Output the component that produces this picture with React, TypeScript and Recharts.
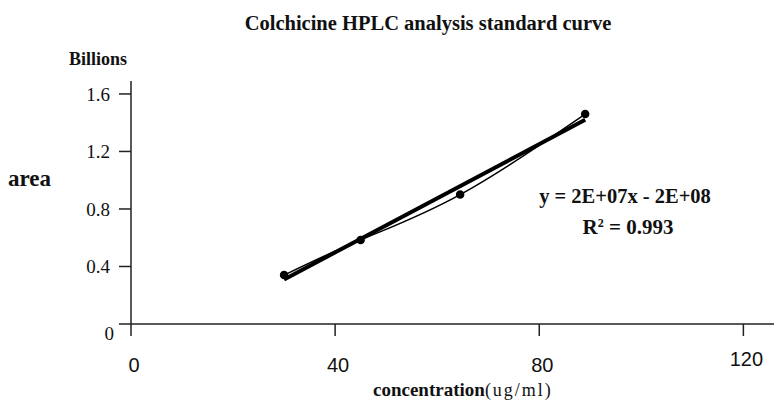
import React from "react";
import { CartesianGrid, Line, LineChart, XAxis, YAxis } from "recharts";

// concentration (ug/ml) and peak area (billions)
const concentration = [30, 45, 64.5, 89];
const areaBillions = [0.34, 0.585, 0.9, 1.46];

// linear trendline, end values
const trendConcentration = [30, 89];
const trendArea = [0.31, 1.42];

const xTicks = [0, 40, 80, 120];
const yTicks = [0, 0.4, 0.8, 1.2, 1.6];

const points = concentration.map((x, i) => ({ x, y: areaBillions[i] }));
const trend = trendConcentration.map((x, i) => ({ x, y: trendArea[i] }));

const serif = "'Liberation Serif', 'Times New Roman', serif";
const sans = "'Liberation Sans', Arial, sans-serif";

function XTick(props: any) {
  const { x, y, payload } = props;
  const lift = payload.value === 120 ? -6 : 0;
  return (
    <text x={x + 3} y={y + lift} textAnchor="middle" dy="0.71em" fontFamily={sans} fontSize={20} fill="#111">
      {payload.value}
    </text>
  );
}

// the zero label sits lower and further right than the others in the original
function YTick(props: any) {
  const { y, payload } = props;
  const isZero = Number(payload.value) === 0;
  return (
    <text
      x={isZero ? 114 : 110}
      y={y + (isZero ? 9 : 0)}
      textAnchor="end"
      dy="0.35em"
      fontFamily={serif}
      fontSize={19}
      fill="#111"
    >
      {payload.value}
    </text>
  );
}

function Txt({ left, top, size, bold = true, children, center = false }: any) {
  return (
    <div
      style={{
        position: "absolute",
        left,
        top,
        fontFamily: serif,
        fontSize: size,
        fontWeight: bold ? 700 : 400,
        lineHeight: 1,
        whiteSpace: "nowrap",
        color: "#111",
        transform: center ? "translateX(-50%)" : undefined,
      }}
    >
      {children}
    </div>
  );
}

export default function App() {
  return (
    <div style={{ position: "absolute", left: 0, top: 0, width: 774, height: 401, background: "#fff" }}>
      <LineChart width={774} height={401} margin={{ top: 81, right: 0, left: 71, bottom: 37 }}>
        <CartesianGrid stroke="none" />
        <XAxis
          type="number"
          dataKey="x"
          domain={[0, 126]}
          ticks={xTicks}
          height={40}
          tickSize={12}
          tickMargin={22}
          tick={<XTick />}
          stroke="#222"
          strokeWidth={1.5}
          allowDataOverflow
        />
        <YAxis
          type="number"
          dataKey="y"
          domain={[0, 1.69]}
          ticks={yTicks}
          width={60}
          tickSize={12}
          tickMargin={8}
          tick={<YTick />}
          stroke="#222"
          strokeWidth={1.5}
          allowDataOverflow
        />
        <Line
          data={points}
          dataKey="y"
          type="natural"
          stroke="#000"
          strokeWidth={1.5}
          dot={{ r: 3.5, fill: "#000", stroke: "#000" }}
          isAnimationActive={false}
        />
        <Line
          data={trend}
          dataKey="y"
          type="linear"
          stroke="#000"
          strokeWidth={4}
          dot={false}
          isAnimationActive={false}
        />
      </LineChart>
      <Txt left={428} top={13} size={20.5} center>
        Colchicine HPLC analysis standard curve
      </Txt>
      <Txt left={69} top={50} size={18}>
        Billions
      </Txt>
      <Txt left={8} top={167} size={23}>
        area
      </Txt>
      <Txt left={625} top={186} size={20.5} center>
        y = 2E+07x - 2E+08
      </Txt>
      <Txt left={628} top={217} size={21} center>
        R<sup style={{ fontSize: 12, verticalAlign: "7px" }}>2</sup> = 0.993
      </Txt>
      <Txt left={373} top={380} size={19}>
        concentration
        <span style={{ fontSize: 18, fontWeight: 400, letterSpacing: 2 }}>(ug/ml)</span>
      </Txt>
    </div>
  );
}
